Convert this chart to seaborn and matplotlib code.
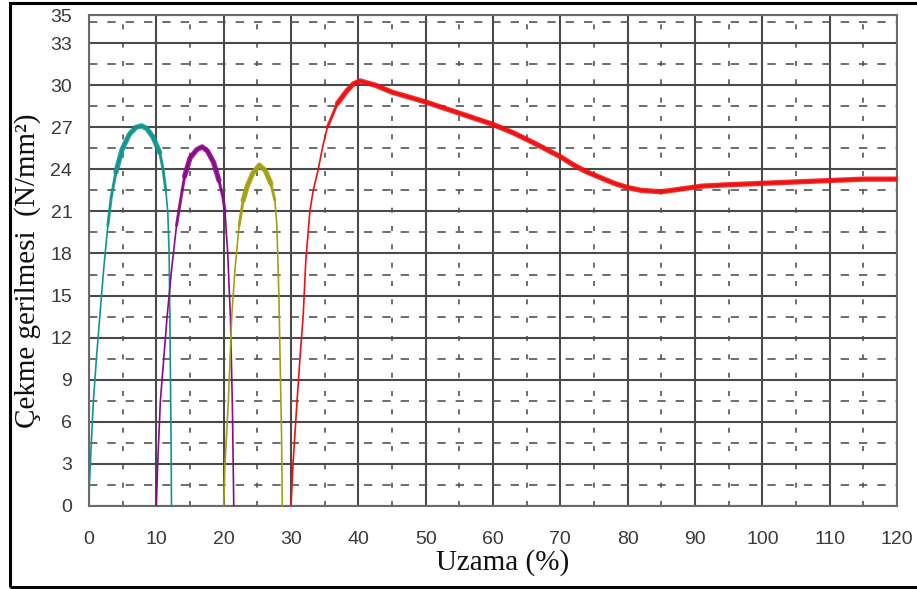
import numpy as np
import pandas as pd
import seaborn as sns
import matplotlib.pyplot as plt
from matplotlib.patches import Rectangle

# Stress-strain curves (elongation %, tensile stress N/mm^2)
teal_x = [0, 0.05, 0.3, 0.65, 1.1, 1.6, 2.2, 2.8, 3.3, 4.0, 4.9, 6.0, 7.0, 7.8,
          8.6, 9.5, 10.5, 11.0, 11.4, 11.7, 11.9, 12.0, 12.1, 12.2, 12.25]
teal_y = [0, 1.5, 4.0, 7.5, 10.5, 13.5, 17.0, 20.0, 22.0, 23.8, 25.4, 26.5, 27.0, 27.1,
          26.9, 26.3, 25.2, 24.0, 22.5, 21.0, 18.0, 14.0, 9.0, 4.0, 0]

purple_x = [10.0, 10.2, 10.6, 11.1, 11.6, 12.3, 13.0, 13.5, 14.2, 15.0, 16.0, 16.8,
            17.6, 18.5, 19.3, 19.9, 20.2, 20.6, 21.0, 21.3, 21.5]
purple_y = [0, 3.0, 7.5, 10.5, 13.5, 17.0, 20.0, 21.5, 23.5, 24.8, 25.4, 25.6,
            25.3, 24.5, 23.2, 22.0, 21.0, 18.0, 13.5, 7.0, 0]

olive_x = [20.0, 20.2, 20.7, 21.2, 21.7, 22.3, 22.9, 23.5, 24.3, 25.3, 26.2, 27.0,
           27.6, 27.9, 28.2, 28.4, 28.6, 28.7]
olive_y = [0, 3.0, 7.5, 13.5, 17.0, 20.0, 21.8, 22.8, 23.7, 24.3, 23.9, 23.0,
           21.8, 20.0, 15.0, 10.0, 5.0, 0]

red_x = [30.0, 30.3, 30.9, 31.4, 31.8, 32.2, 32.8, 33.3, 34.0, 34.7, 35.4, 36.9, 38.3,
         39.3, 40.3, 42.5, 45, 50, 55, 60, 63, 66, 70, 72, 74, 76, 78, 80, 82,
         85, 88, 91, 95, 100, 105, 110, 115, 120]
red_y = [0, 3.0, 7.5, 11.0, 13.5, 17.5, 21.0, 22.5, 23.9, 25.6, 27.0, 28.7, 29.6,
         30.1, 30.3, 30.0, 29.5, 28.8, 28.0, 27.2, 26.6, 25.9, 24.9, 24.3, 23.8,
         23.4, 23.0, 22.7, 22.5, 22.4, 22.6, 22.8, 22.9, 23.0, 23.1, 23.2, 23.3, 23.3]

x_ticks = [0, 10, 20, 30, 40, 50, 60, 70, 80, 90, 100, 110, 120]
y_ticks = [0, 3, 6, 9, 12, 15, 18, 21, 24, 27, 30, 33, 35]

# name, x, y, colour, (x-range of medium band), (x-range of wide band)
series = [
    ("teal", teal_x, teal_y, "#12958f", (2.8, 11.4), (4.0, 10.5)),
    ("purple", purple_x, purple_y, "#8a0a8a", (13.0, 20.2), (14.2, 19.3)),
    ("olive", olive_x, olive_y, "#a3a012", (22.3, 27.6), (22.9, 27.0)),
    ("red", red_x, red_y, "#f01010", (35.4, 120), (36.9, 120)),
]

sns.set_theme(style="white")
plt.rcParams["font.family"] = ["Liberation Sans", "DejaVu Sans"]

fig = plt.figure(figsize=(9.17, 5.89), dpi=100)
ax = fig.add_axes([89 / 917, 1 - 506 / 589, 808 / 917, 491 / 589])

ax.set_xlim(0, 120)
ax.set_ylim(0, 35)
ax.set_xticks(x_ticks)
ax.set_yticks(y_ticks)
ax.set_xticks(np.arange(5, 120, 10), minor=True)
ax.set_yticks(np.arange(1.5, 35, 3), minor=True)
ax.set_xticklabels([str(v) for v in x_ticks])
ax.set_yticklabels([str(v) for v in y_ticks])

ax.grid(which="major", color="#4a4a4a", linewidth=1.5, linestyle="-", zorder=0)
ax.xaxis.grid(which="minor", color="#555555", linewidth=1.2, linestyle=(0, (3, 8)))
ax.yaxis.grid(which="minor", color="#555555", linewidth=1.2, linestyle=(0, (5, 6)))
ax.set_axisbelow(True)

for name, xs, ys, col, mid_rng, top_rng in series:
    df = pd.DataFrame({"x": xs, "y": ys})
    sns.lineplot(data=df, x="x", y="y", sort=False, estimator=None,
                 color=col, linewidth=1.2, ax=ax, zorder=3)
    mid = df[df["x"].between(*mid_rng)]
    sns.lineplot(data=mid, x="x", y="y", sort=False, estimator=None,
                 color=col, linewidth=2.2, ax=ax, zorder=4, alpha=0.85)
    top = df[df["x"].between(*top_rng)]
    sns.lineplot(data=top, x="x", y="y", sort=False, estimator=None,
                 color=col, linewidth=3.8, ax=ax, zorder=5, alpha=0.85)

for ln in ax.lines:
    ln.set_solid_capstyle("round")
    ln.set_solid_joinstyle("round")

ax.tick_params(axis="both", which="both", length=0, labelsize=14, labelcolor="#3a3a3a")
ax.tick_params(axis="x", pad=18)
ax.tick_params(axis="y", pad=12)

for sp in ax.spines.values():
    sp.set_color("#6a6a6a")
    sp.set_linewidth(1.5)

serif = ["Liberation Serif", "DejaVu Serif"]
ax.set_xlabel("Uzama (%)", family=serif, fontsize=21, color="#111111")
ax.set_ylabel("Çekme gerilmesi  (N/mm²)", family=serif, fontsize=21, color="#111111")
ax.xaxis.label.set_va("center")
ax.yaxis.label.set_va("center")
ax.xaxis.set_label_coords(0.512, -0.116)
ax.yaxis.set_label_coords(-0.076, 0.48)

# outer frame around the figure
fig.patches.append(Rectangle((10 / 917, 2 / 589), 1.0, 1 - 5 / 589,
                             transform=fig.transFigure, fill=False,
                             edgecolor="black", linewidth=2.2))

fig.savefig("out.png", dpi=100)
